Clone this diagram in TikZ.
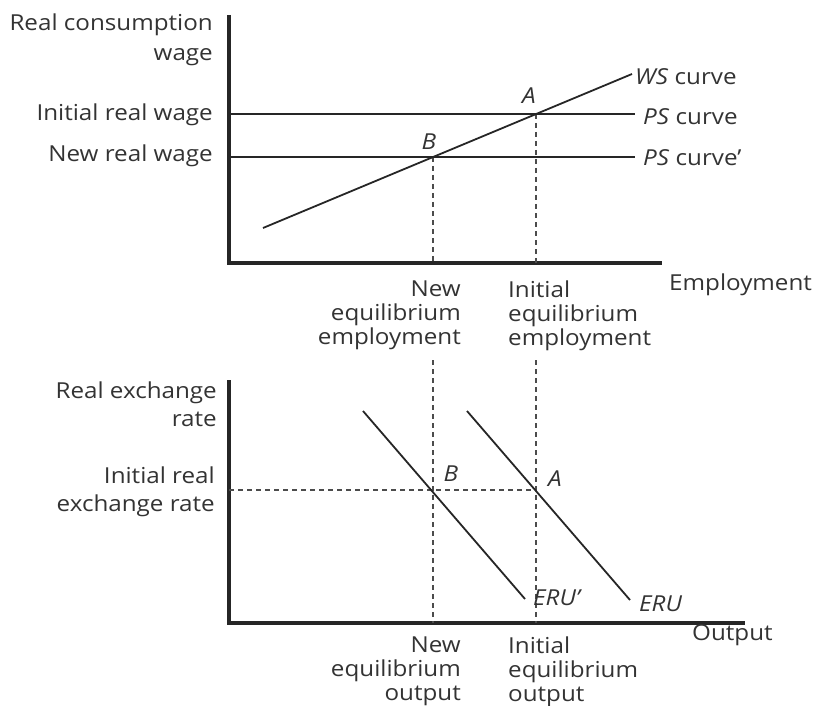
\documentclass[tikz,border=0pt]{standalone}
\usepackage{fontspec}
\setmainfont[FakeStretch=1.1]{Open Sans}
\begin{document}
\begin{tikzpicture}[x=1pt,y=-1pt,
  lbl/.style={font=\fontsize{22}{28}\selectfont, text=black!80, inner sep=0pt},
  lblt/.style={font=\fontsize{22}{30}\selectfont, text=black!80, inner sep=0pt},
  lblb/.style={font=\fontsize{22}{24}\selectfont, text=black!80, inner sep=0pt},
  axis/.style={line width=3.2pt, black!85, line join=miter},
  curve/.style={line width=1.8pt, black!85},
  guide/.style={line width=1.4pt, black!70, dash pattern=on 5pt off 4pt},
]
\useasboundingbox (0,0) rectangle (817,706);

% ---------- upper panel: labour market ----------
\coordinate (tY) at (229,15);
\coordinate (tO) at (229,263);
\coordinate (tX) at (662,263);
\draw[axis] (tY) -- (tO) -- (tX);

\coordinate (psL) at (229,114);
\coordinate (psR) at (635,114);
\coordinate (ps2L) at (229,157);
\coordinate (ps2R) at (635,157);
\coordinate (wsL) at (263,228);
\coordinate (wsR) at (632,74);
\coordinate (tA) at (536,114);
\coordinate (tB) at (433,157);
\coordinate (tAx) at (536,263);
\coordinate (tBx) at (433,263);

\draw[guide] (tA) -- (tAx);
\draw[guide] (tB) -- (tBx);
\draw[curve] (psL) -- (psR);
\draw[curve] (ps2L) -- (ps2R);
\draw[curve] (wsL) -- (wsR);

\node[lblt, align=right, anchor=east] (ylabT) at (213,40) {Real consumption\\wage};
\node[lbl, anchor=east] (iniW) at (213,115) {Initial real wage};
\node[lbl, anchor=east] (newW) at (213,156) {New real wage};
\node[lbl, anchor=west] (wsLab) at (635,77) {\textit{WS} curve};
\node[lbl, anchor=west] (psLab) at (643,117) {\textit{PS} curve};
\node[lbl, anchor=west] (ps2Lab) at (643,158) {\textit{PS} curve’};
\node[lbl] (labA) at (529,96) {\textit{A}};
\node[lbl] (labB) at (429,142) {\textit{B}};
\node[lbl, anchor=west] (xlabT) at (669,285) {Employment};
\node[lblb, align=right, anchor=north east] (newE) at (461,281) {New\\equilibrium\\employment};
\node[lblb, align=left, anchor=north west] (iniE) at (508,281) {Initial\\equilibrium\\employment};

% ---------- lower panel: real exchange rate ----------
\coordinate (bY) at (229,380);
\coordinate (bO) at (229,623);
\coordinate (bX) at (745,623);
\draw[axis] (bY) -- (bO) -- (bX);

\coordinate (bA) at (536,490);
\coordinate (bH) at (229,490);
\coordinate (vBt) at (433,360);
\coordinate (vBb) at (433,623);
\coordinate (vAt) at (536,360);
\coordinate (vAb) at (536,623);
\draw[guide] (bH) -- (bA);
\draw[guide] (vBt) -- (vBb);
\draw[guide] (vAt) -- (vAb);

\coordinate (eru2T) at (363,411);
\coordinate (eru2B) at (525,599);
\coordinate (eruT) at (467,411);
\coordinate (eruB) at (630,600);
\draw[curve] (eru2T) -- (eru2B);
\draw[curve] (eruT) -- (eruB);

\node[lbl, align=right, anchor=east] (ylabB) at (217,404) {Real exchange\\rate};
\node[lbl, align=right, anchor=east] (iniR) at (215,492) {Initial real\\exchange rate};
\node[lbl] (labB2) at (451,474) {\textit{B}};
\node[lbl] (labA2) at (555,479) {\textit{A}};
\node[lbl, anchor=west] (eru2Lab) at (533,598) {\textit{ERU’}};
\node[lbl, anchor=west] (eruLab) at (639,604) {\textit{ERU}};
\node[lbl, anchor=west] (xlabB) at (692,635) {Output};
\node[lblb, align=right, anchor=north east] (newO) at (461,637) {New\\equilibrium\\output};
\node[lblb, align=left, anchor=north west] (iniO) at (508,637) {Initial\\equilibrium\\output};
\end{tikzpicture}
\end{document}
